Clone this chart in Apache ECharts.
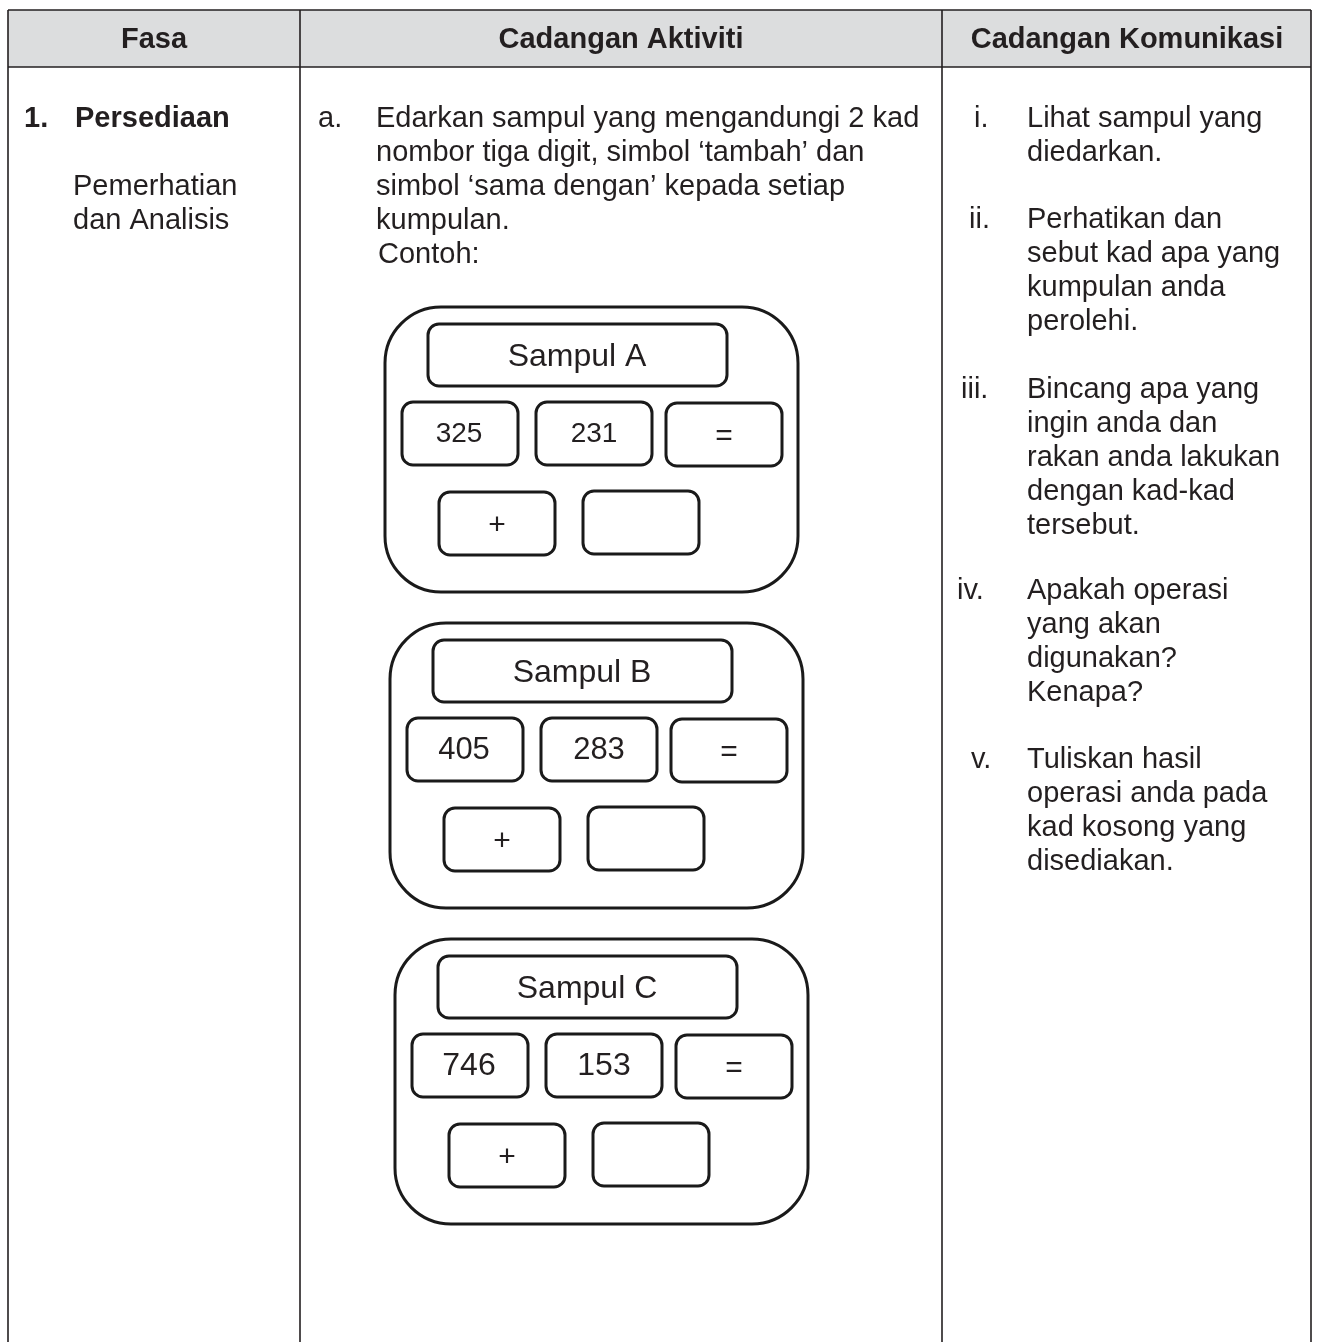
<!DOCTYPE html>
<html><head><meta charset="utf-8">
<script src="https://cdn.jsdelivr.net/npm/echarts@6/dist/echarts.min.js"></script>
<style>html,body{margin:0;padding:0;background:#fff}#c{width:1318px;height:1342px}</style>
</head><body><div id="c"></div>
<script>
// ---- data ----
const headers = ['Fasa', 'Cadangan Aktiviti', 'Cadangan Komunikasi'];
const phaseNo = '1.';
const phaseTitle = 'Persediaan';
const phaseSub = ['Pemerhatian', 'dan Analisis'];
const activityLabel = 'a.';
const activityLines = ['Edarkan sampul yang mengandungi 2 kad', 'nombor tiga digit, simbol \u2018tambah\u2019 dan', 'simbol \u2018sama dengan\u2019 kepada setiap', 'kumpulan.'];
const exampleLabel = 'Contoh:';
const envelopeNames = ['Sampul A', 'Sampul B', 'Sampul C'];
const firstNumbers = ['325', '405', '746'];
const secondNumbers = ['231', '283', '153'];
const symbolEq = '=';
const symbolPlus = '+';
const commLabels = ['i.', 'ii.', 'iii.', 'iv.', 'v.'];
const commTexts = [
  ['Lihat sampul yang', 'diedarkan.'],
  ['Perhatikan dan', 'sebut kad apa yang', 'kumpulan anda', 'perolehi.'],
  ['Bincang apa yang', 'ingin anda dan', 'rakan anda lakukan', 'dengan kad-kad', 'tersebut.'],
  ['Apakah operasi', 'yang akan', 'digunakan?', 'Kenapa?'],
  ['Tuliskan hasil', 'operasi anda pada', 'kad kosong yang', 'disediakan.']
];

// ---- layout ----
const FONT = '"Liberation Sans", Arial, sans-serif';
const FS = 29, LH = 34;
const TL = 8, TR = 1311, TT = 10, HB = 67, C1 = 300, C2 = 942, BOT = 1345;
const envOrigin = [[385, 307], [390, 623], [395, 939]];
const numFont = [28, 31, 32];
const commLabelX = [974, 969, 961, 957, 971];
const commFirstY = [119, 220, 390, 591, 760];

const g = [];
const black = '#231f20';
g.push({type:'rect', shape:{x:TL, y:TT, width:TR-TL, height:HB-TT}, style:{fill:'#dcddde', stroke:null}});
const lw = 1.6;
const lines = [[TL,TT,TR,TT],[TL,HB,TR,HB],[TL,TT,TL,BOT],[TR,TT,TR,BOT],[C1,TT,C1,BOT],[C2,TT,C2,BOT]];
lines.forEach(l => g.push({type:'line', shape:{x1:l[0],y1:l[1],x2:l[2],y2:l[3]}, style:{stroke:black, lineWidth:lw}}));

function txt(x, y, s, opts) {
  opts = opts || {};
  g.push({type:'text', x:x, y:y, style:{text:s, fill:black, font:(opts.bold?'bold ':'')+(opts.fs||FS)+'px '+FONT, textAlign:opts.align||'left', textVerticalAlign:'middle'}});
}
const hx = [154, 621, 1127];
headers.forEach((h,i) => txt(hx[i], 40, h, {bold:true, fs:29, align:'center'}));
txt(24, 119, phaseNo, {bold:true});
txt(75, 119, phaseTitle, {bold:true});
phaseSub.forEach((s,i) => txt(73, 187 + i*LH, s));
txt(318, 119, activityLabel);
activityLines.forEach((s,i) => txt(376, 119 + i*LH, s));
txt(378, 119 + activityLines.length*LH, exampleLabel);

function box(x, y, w, h, r, lwid) {
  g.push({type:'rect', shape:{x:x, y:y, width:w, height:h, r:r}, style:{fill:'#fff', stroke:'#1a1a1a', lineWidth:lwid}});
}
envelopeNames.forEach((name, i) => {
  const [ox, oy] = envOrigin[i];
  box(ox, oy, 413, 285, 56, 3);
  box(ox+43, oy+17, 299, 62, 11, 3);
  txt(ox+192, oy+50, name, {fs:32, align:'center'});
  box(ox+17, oy+95, 116, 63, 11, 3);
  txt(ox+74, oy+127, firstNumbers[i], {fs:numFont[i], align:'center'});
  box(ox+151, oy+95, 116, 63, 11, 3);
  txt(ox+209, oy+127, secondNumbers[i], {fs:numFont[i], align:'center'});
  box(ox+281, oy+96, 116, 63, 11, 3);
  txt(ox+339, oy+130, symbolEq, {fs:30, align:'center'});
  box(ox+54, oy+185, 116, 63, 11, 3);
  txt(ox+112, oy+219, symbolPlus, {fs:30, align:'center'});
  box(ox+198, oy+184, 116, 63, 11, 3);
});

commLabels.forEach((lab, i) => {
  txt(commLabelX[i], commFirstY[i], lab);
  commTexts[i].forEach((s, j) => txt(1027, commFirstY[i] + j*LH, s));
});

const chart = echarts.init(document.getElementById('c'), null, {renderer:'canvas'});
chart.setOption({backgroundColor:'#fff', animation:false, graphic:{elements:g}});
</script></body></html>
